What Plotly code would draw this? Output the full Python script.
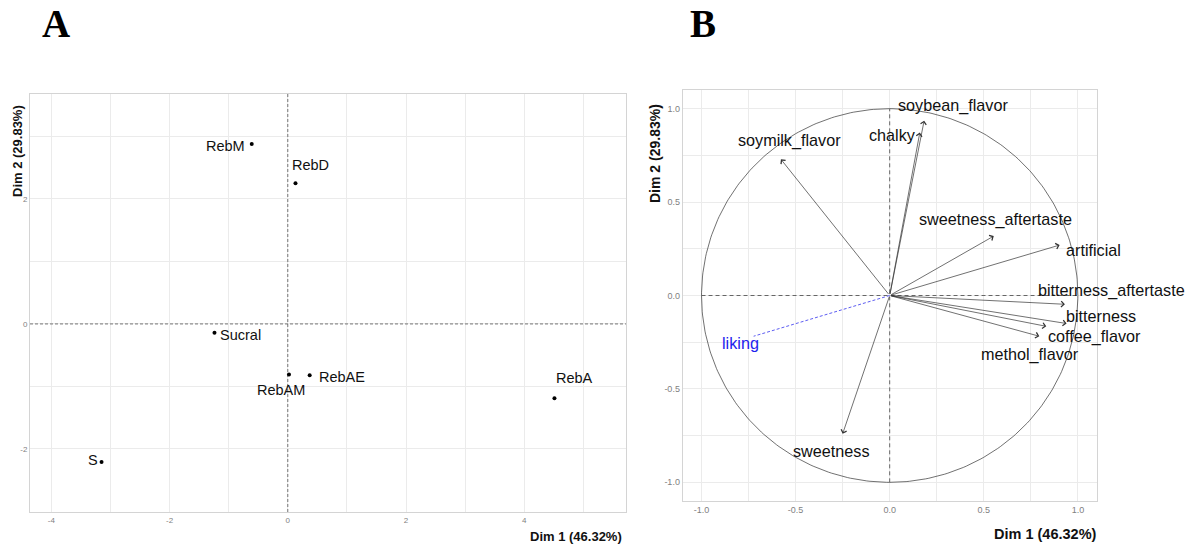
import numpy as np
import plotly.graph_objects as go

W, H = 1193, 546

# ---- individuals factor map (Dim 1 / Dim 2 scores) ----
samples = ["RebM", "RebD", "Sucral", "RebAM", "RebAE", "RebA", "S"]
ind_dim1 = [-0.61, 0.13, -1.24, 0.02, 0.37, 4.51, -3.15]
ind_dim2 = [2.88, 2.25, -0.14, -0.81, -0.82, -1.19, -2.21]

# ---- variables correlation circle ----
attributes = ["soymilk_flavor", "chalky", "soybean_flavor", "sweetness_aftertaste",
              "artificial", "bitterness_aftertaste", "bitterness", "coffee_flavor",
              "methol_flavor", "sweetness"]
var_dim1 = [-0.578, 0.160, 0.183, 0.553, 0.903, 0.931, 0.940, 0.832, 0.795, -0.250]
var_dim2 = [0.729, 0.872, 0.936, 0.318, 0.270, -0.047, -0.150, -0.165, -0.218, -0.740]

# supplementary variable
supp_name = "liking"
supp_dim1 = -0.723
supp_dim2 = -0.218

x_title = "Dim 1 (46.32%)"
y_title = "Dim 2 (29.83%)"

# tick labels
a_xticks = [-4, -2, 0, 2, 4]
a_yticks = [-2, 0, 2]
b_ticks = [-1.0, -0.5, 0.0, 0.5, 1.0]
b_ticktext = ["-1.0", "-0.5", "0.0", "0.5", "1.0"]

# label offsets in pixels (repelled text placement)
ind_label_shift = {
    "RebM": (-26, -2), "RebD": (15, 18), "Sucral": (26, -2), "RebAM": (-8, -15),
    "RebAE": (32, -2), "RebA": (20, 20), "S": (-9, 2),
}
var_label_shift = {
    "soymilk_flavor": (9, 19), "chalky": (-27, -2), "soybean_flavor": (29, 15),
    "sweetness_aftertaste": (2, 17), "artificial": (34, -5),
    "bitterness_aftertaste": (47, 14), "bitterness": (34, 8),
    "coffee_flavor": (48, -10), "methol_flavor": (-9, -18), "sweetness": (-12, -17),
}
supp_label_shift = (-13, -7)


def px_x(p):
    return p / W


def px_y(p):
    return 1 - p / H


A_RANGE_X = [-4.36, 5.72]
A_RANGE_Y = [-3.01, 3.68]
B_RANGE = [-1.1, 1.1]

SANS = "Liberation Sans, Arial, sans-serif"
LABEL_FONT_A = dict(family=SANS, size=14.5, color="#111111")
LABEL_FONT_B = dict(family=SANS, size=16.2, color="#111111")
TICK_FONT_A = dict(family=SANS, size=8, color="#7f7f7f")
TICK_FONT_B = dict(family=SANS, size=9, color="#7f7f7f")
TITLE_FONT = dict(family=SANS, color="#111111")
GRID = "#ebebeb"
BORDER = "#d4d4d4"

fig = go.Figure()

# Panel A: reference dashed lines
fig.add_trace(go.Scatter(x=A_RANGE_X, y=[0, 0], mode="lines", xaxis="x", yaxis="y",
                         line=dict(color="#555555", width=0.8, dash="3px,2px"),
                         hoverinfo="skip", showlegend=False))
fig.add_trace(go.Scatter(x=[0, 0], y=A_RANGE_Y, mode="lines", xaxis="x", yaxis="y",
                         line=dict(color="#555555", width=0.8, dash="3px,2px"),
                         hoverinfo="skip", showlegend=False))
# Panel A: individual points
fig.add_trace(go.Scatter(x=ind_dim1, y=ind_dim2, mode="markers", xaxis="x", yaxis="y",
                         marker=dict(color="black", size=4), showlegend=False))

annotations = []
for name, xv, yv in zip(samples, ind_dim1, ind_dim2):
    dx, dy = ind_label_shift[name]
    annotations.append(dict(x=xv, y=yv, xref="x", yref="y", text=name, showarrow=False,
                            xshift=dx, yshift=dy, font=LABEL_FONT_A,
                            xanchor="center", yanchor="middle"))

# Panel B: unit circle
theta = np.linspace(0, 2 * np.pi, 361)
fig.add_trace(go.Scatter(x=np.cos(theta), y=np.sin(theta), mode="lines", xaxis="x2", yaxis="y2",
                         line=dict(color="#333333", width=0.7), hoverinfo="skip", showlegend=False))
fig.add_trace(go.Scatter(x=[-1, 1], y=[0, 0], mode="lines", xaxis="x2", yaxis="y2",
                         line=dict(color="#444444", width=0.8, dash="4px,3px"),
                         hoverinfo="skip", showlegend=False))
fig.add_trace(go.Scatter(x=[0, 0], y=[-1, 1], mode="lines", xaxis="x2", yaxis="y2",
                         line=dict(color="#444444", width=0.8, dash="4px,3px"),
                         hoverinfo="skip", showlegend=False))
# supplementary variable (dashed blue)
fig.add_trace(go.Scatter(x=[0, supp_dim1], y=[0, supp_dim2], mode="lines", xaxis="x2", yaxis="y2",
                         line=dict(color="#3333ee", width=0.8, dash="3px,2px"),
                         hoverinfo="skip", showlegend=False))

# Panel B: arrows + labels
for name, xv, yv in zip(attributes, var_dim1, var_dim2):
    annotations.append(dict(x=xv, y=yv, xref="x2", yref="y2", ax=0, ay=0, axref="x2", ayref="y2",
                            text="", showarrow=True, arrowhead=4, arrowsize=1.6, arrowwidth=0.7,
                            arrowcolor="#333333", standoff=0))
    dx, dy = var_label_shift[name]
    annotations.append(dict(x=xv, y=yv, xref="x2", yref="y2", text=name, showarrow=False,
                            xshift=dx, yshift=dy, font=LABEL_FONT_B,
                            xanchor="center", yanchor="middle"))
annotations.append(dict(x=supp_dim1, y=supp_dim2, xref="x2", yref="y2", text=supp_name,
                        showarrow=False, xshift=supp_label_shift[0], yshift=supp_label_shift[1],
                        font=dict(family=SANS, size=16.2, color="#2222ee"),
                        xanchor="center", yanchor="middle"))

# axis titles
annotations += [
    dict(x=px_x(624), y=px_y(536), xref="paper", yref="paper", text="<b>" + x_title + "</b>",
         showarrow=False, xanchor="right", yanchor="middle", font=dict(TITLE_FONT, size=13)),
    dict(x=px_x(17), y=px_y(151), xref="paper", yref="paper", text="<b>" + y_title + "</b>",
         showarrow=False, xanchor="center", yanchor="middle", textangle=-90,
         font=dict(TITLE_FONT, size=13)),
    dict(x=px_x(1099), y=px_y(534), xref="paper", yref="paper", text="<b>" + x_title + "</b>",
         showarrow=False, xanchor="right", yanchor="middle", font=dict(TITLE_FONT, size=14.5)),
    dict(x=px_x(655), y=px_y(154), xref="paper", yref="paper", text="<b>" + y_title + "</b>",
         showarrow=False, xanchor="center", yanchor="middle", textangle=-90,
         font=dict(TITLE_FONT, size=14)),
    # panel letters
    dict(x=px_x(56), y=px_y(24), xref="paper", yref="paper", text="<b>A</b>", showarrow=False,
         xanchor="center", yanchor="middle",
         font=dict(family="Liberation Serif, Times New Roman, serif", size=39, color="black")),
    dict(x=px_x(703), y=px_y(24), xref="paper", yref="paper", text="<b>B</b>", showarrow=False,
         xanchor="center", yanchor="middle",
         font=dict(family="Liberation Serif, Times New Roman, serif", size=39, color="black")),
]

axis_common = dict(showgrid=True, gridcolor=GRID, gridwidth=1, zeroline=False,
                   showline=True, mirror=True, linecolor=BORDER, linewidth=1,
                   ticks="", fixedrange=True)

fig.update_layout(
    width=W, height=H,
    margin=dict(l=0, r=0, t=0, b=0),
    paper_bgcolor="white", plot_bgcolor="white",
    showlegend=False,
    annotations=annotations,
    xaxis=dict(axis_common, domain=[px_x(30), px_x(626)], range=A_RANGE_X, anchor="y",
               tickvals=a_xticks, ticktext=[str(v) for v in a_xticks], tickfont=TICK_FONT_A,
               minor=dict(dtick=1, tick0=0, showgrid=True, gridcolor=GRID)),
    yaxis=dict(axis_common, domain=[px_y(512), px_y(94)], range=A_RANGE_Y, anchor="x",
               tickvals=a_yticks, ticktext=[str(v) for v in a_yticks], tickfont=TICK_FONT_A,
               minor=dict(dtick=1, tick0=0, showgrid=True, gridcolor=GRID)),
    xaxis2=dict(axis_common, domain=[px_x(682.7), px_x(1096.7)], range=B_RANGE, anchor="y2",
                tickvals=b_ticks, ticktext=b_ticktext, tickfont=TICK_FONT_B,
                minor=dict(dtick=0.25, tick0=0, showgrid=True, gridcolor=GRID)),
    yaxis2=dict(axis_common, domain=[px_y(501), px_y(90)], range=B_RANGE, anchor="x2",
                tickvals=b_ticks, ticktext=b_ticktext, tickfont=TICK_FONT_B,
                minor=dict(dtick=0.25, tick0=0, showgrid=True, gridcolor=GRID)),
)

fig.write_html("out.html")
